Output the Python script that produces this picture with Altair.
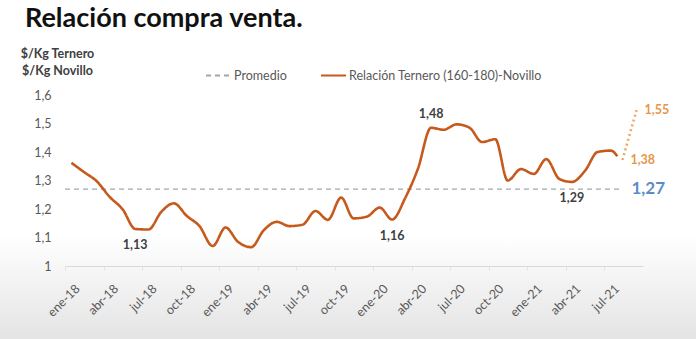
import altair as alt
import pandas as pd

# ---- data ----
dates = [
    "2018-01-16", "2018-02-15", "2018-03-16", "2018-04-15", "2018-05-16", "2018-06-15",
    "2018-07-16", "2018-08-16", "2018-09-15", "2018-10-16", "2018-11-15", "2018-12-16",
    "2019-01-16", "2019-02-15", "2019-03-16", "2019-04-15", "2019-05-16", "2019-06-15",
    "2019-07-16", "2019-08-16", "2019-09-15", "2019-10-16", "2019-11-15", "2019-12-16",
    "2020-01-16", "2020-02-15", "2020-03-16", "2020-04-15", "2020-05-16", "2020-06-15",
    "2020-07-16", "2020-08-16", "2020-09-15", "2020-10-16", "2020-11-15", "2020-12-16",
    "2021-01-16", "2021-02-15", "2021-03-16", "2021-04-15", "2021-05-16", "2021-06-15",
    "2021-07-16", "2021-07-31",
]
relacion = [
    1.362, 1.330, 1.296, 1.243, 1.198, 1.130,
    1.128, 1.190, 1.220, 1.175, 1.140, 1.070,
    1.135, 1.085, 1.066, 1.125, 1.155, 1.140,
    1.145, 1.193, 1.162, 1.240, 1.167, 1.173,
    1.205, 1.163, 1.240, 1.340, 1.485, 1.478,
    1.497, 1.485, 1.435, 1.445, 1.300, 1.340,
    1.323, 1.375, 1.305, 1.295, 1.335, 1.400,
    1.405, 1.385,
]
proy_dates = ["2021-08-13", "2021-09-16"]
proy_values = [1.372, 1.547]
promedio = 1.27
prom_dates = ["2018-01-01", "2021-08-13"]

label_dates = ["2018-06-15", "2020-02-15", "2020-05-16", "2021-04-15"]
label_values = [1.13, 1.163, 1.485, 1.295]
label_texts = ["1,13", "1,16", "1,48", "1,29"]
label_below = [True, True, False, True]

tick_labels = ["ene-18", "abr-18", "jul-18", "oct-18", "ene-19", "abr-19", "jul-19",
               "oct-19", "ene-20", "abr-20", "jul-20", "oct-20", "ene-21", "abr-21",
               "jul-21"]
y_ticks = [1, 1.1, 1.2, 1.3, 1.4, 1.5, 1.6]
y_tick_labels = ["1", "1,1", "1,2", "1,3", "1,4", "1,5", "1,6"]

SERIE = "Relación Ternero (160-180)-Novillo"
PROM = "Promedio"
FONT = "Lato"


def month_pos(d):
    t = pd.Timestamp(d)
    return (t.year - 2018) * 12 + (t.month - 1) + (t.day - 1) / 30.0


line_df = pd.DataFrame({"m": [month_pos(d) for d in dates], "v": relacion, "serie": SERIE})
proy_df = pd.DataFrame({"m": [month_pos(d) for d in proy_dates], "v": proy_values})
prom_df = pd.DataFrame({"m": [month_pos(prom_dates[0])], "m2": [month_pos(prom_dates[1])],
                        "v": [promedio], "serie": PROM})
lab_df = pd.DataFrame({"m": [month_pos(d) for d in label_dates], "v": label_values,
                       "t": label_texts, "below": label_below})
proy_lab_df = pd.DataFrame({"m": [month_pos(d) for d in proy_dates], "v": proy_values,
                            "t": ["1,38", "1,55"]})
prom_lab_df = pd.DataFrame({"m": [month_pos(prom_dates[1])], "v": [promedio], "t": ["1,27"]})

x_label_expr = "[" + ",".join(f"'{s}'" for s in tick_labels) + "][round(datum.value/3)]"
y_label_expr = "[" + ",".join(f"'{s}'" for s in y_tick_labels) + "][round((datum.value-1)*10)]"

x_scale = alt.Scale(domain=[0, 45], nice=False, zero=False)
y_scale = alt.Scale(domain=[1, 1.6], nice=False, zero=False)

x_axis = alt.Axis(
    title=None, values=list(range(0, 45, 3)), labelExpr=x_label_expr, labelAngle=-45,
    labelFontSize=12.5, labelColor="#595959", labelFont=FONT, grid=False,
    domainColor="#D9D9D9", tickColor="#E3E3E3", tickSize=4, labelPadding=12,
    labelOffset=8, labelOverlap=False, zindex=1)
y_axis = alt.Axis(
    title=["$/Kg Ternero", "$/Kg Novillo"], titleAngle=0, titleAlign="center",
    titleBaseline="top", titleX=-8, titleY=-48, titleFontSize=12.5, titleFont=FONT,
    titleColor="#404040", titleFontWeight="bold", titleLineHeight=17,
    values=y_ticks, labelExpr=y_label_expr,
    labelFontSize=12.5, labelColor="#595959", labelFont=FONT, labelPadding=14,
    labelOverlap=False, labelSeparation=0, grid=False, domain=False, ticks=False, zindex=1)

x_enc = alt.X("m:Q", scale=x_scale, axis=x_axis)
y_enc = alt.Y("v:Q", scale=y_scale, axis=y_axis)

color_scale = alt.Scale(domain=[PROM, SERIE], range=["#A6A6A6", "#C55A1C"])
dash_scale = alt.Scale(domain=[PROM, SERIE], range=[[5, 4], [1, 0]])
legend = alt.Legend(title=None, orient="none", legendX=140, legendY=-33,
                    direction="horizontal", symbolType="stroke", symbolSize=625,
                    symbolStrokeWidth=2, labelFont=FONT, labelFontSize=12.5,
                    labelColor="#595959", labelOffset=2, columnPadding=30,
                    labelLimit=400)

bg = alt.Chart(pd.DataFrame({"k": [0]})).mark_rect(
    fill=alt.Gradient(gradient="linear", x1=0, y1=0, x2=0, y2=1,
                      stops=[alt.GradientStop(color="#FFFFFF", offset=0),
                             alt.GradientStop(color="#E4E4E4", offset=1)])
).encode(x=alt.value(-65), x2=alt.value(631), y=alt.value(140), y2=alt.value(244))

prom = alt.Chart(prom_df).mark_rule(strokeWidth=1.3).encode(
    x=x_enc, x2="m2:Q", y=y_enc,
    color=alt.Color("serie:N", scale=color_scale, legend=legend),
    strokeDash=alt.StrokeDash("serie:N", scale=dash_scale, legend=legend))

line = alt.Chart(line_df).mark_line(strokeWidth=2.6, interpolate="monotone").encode(
    x=x_enc, y=y_enc,
    color=alt.Color("serie:N", scale=color_scale, legend=legend),
    strokeDash=alt.StrokeDash("serie:N", scale=dash_scale, legend=legend))

proy = alt.Chart(proy_df).mark_line(strokeWidth=2.6, strokeDash=[2, 3],
                                    color="#F0A860").encode(x=x_enc, y=y_enc)

labels_below = alt.Chart(lab_df).transform_filter("datum.below").mark_text(
    font=FONT, fontSize=12.5, fontWeight="bold", color="#404040",
    baseline="middle", dy=16).encode(x=x_enc, y=y_enc, text="t:N")
labels_above = alt.Chart(lab_df).transform_filter("!datum.below").mark_text(
    font=FONT, fontSize=12.5, fontWeight="bold", color="#404040",
    baseline="middle", dy=-14).encode(x=x_enc, y=y_enc, text="t:N")

proy_labels = alt.Chart(proy_lab_df).mark_text(font=FONT, fontSize=12.5, fontWeight="bold",
                                               color="#E8964A", align="left",
                                               baseline="middle", dx=8).encode(
    x=x_enc, y=y_enc, text="t:N")

prom_label = alt.Chart(prom_lab_df).mark_text(font=FONT, fontSize=17, fontWeight="bold",
                                              color="#5B8CC8", align="left",
                                              baseline="middle", dx=9).encode(
    x=x_enc, y=y_enc, text="t:N")

chart = alt.layer(bg, prom, line, proy, labels_below, labels_above, proy_labels,
                  prom_label).properties(
    width=578, height=171,
    autosize=alt.AutoSizeParams(type="none"),
    padding={"left": 65, "top": 95, "right": 53, "bottom": 73},
    background="white",
    title=alt.TitleParams("Relación compra venta.", anchor="start", fontSize=27,
                          font=FONT, fontWeight="bold", color="#111111", dx=25,
                          dy=27, offset=20, baseline="alphabetic"),
).resolve_scale(color="shared", strokeDash="shared").configure_view(stroke=None)

chart.save("out.html", embed_options={"renderer": "svg", "actions": False})
